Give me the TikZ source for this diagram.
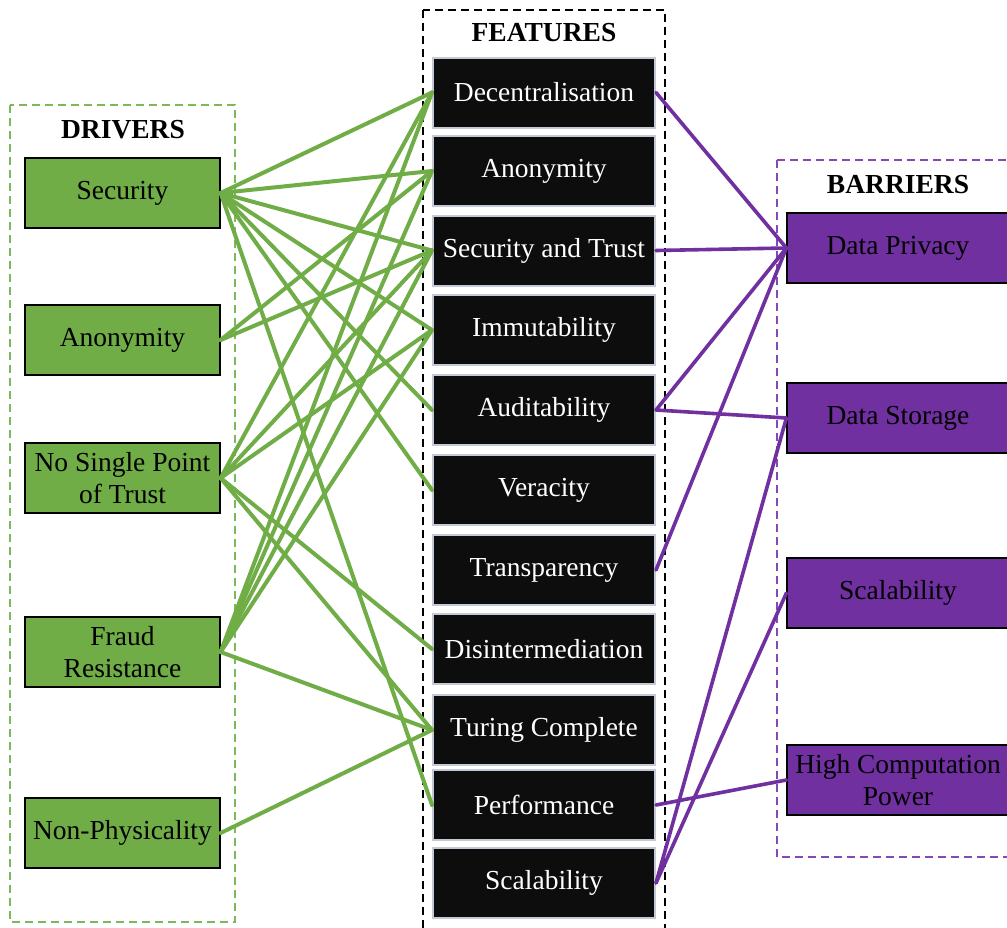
\documentclass[tikz,border=0pt]{standalone}
\usepackage{fontspec}
\setmainfont{Liberation Serif}
\definecolor{drvgreen}{HTML}{70AD47}
\definecolor{lgreen}{HTML}{70AD47}
\definecolor{grpgreen}{HTML}{7DB95A}
\definecolor{barpurple}{HTML}{7030A0}
\definecolor{lpurple}{HTML}{7030A0}
\definecolor{grppurple}{HTML}{8548B5}
\definecolor{featblack}{HTML}{0D0D0D}
\definecolor{featborder}{HTML}{C3CAD6}
\begin{document}
\begin{tikzpicture}[x=1pt,y=-1pt,
  txt/.style={font=\fontsize{27.5}{32}\selectfont, align=center, inner sep=0pt},
  ttl/.style={font=\fontsize{27.5}{32}\selectfont\bfseries, inner sep=0pt},
  drv/.style={txt, draw=black, line width=1.2pt, fill=drvgreen, minimum width=195pt, minimum height=70pt},
  feat/.style={txt, draw=featborder, line width=2pt, fill=featblack, text=white, minimum width=222pt, minimum height=70pt},
  bar/.style={txt, draw=black, line width=1.2pt, fill=barpurple, minimum width=222pt, minimum height=70pt},
  gl/.style={draw=lgreen, line width=4pt, line cap=round},
  pl/.style={draw=lpurple, line width=3.6pt, line cap=round},
  grp/.style={dash pattern=on 8pt off 5pt, line width=1.6pt}
]
\useasboundingbox[fill=white] (0,0) rectangle (1007,927);
\begin{scope}
\clip (0,0) rectangle (1007,927);
% groups
\draw[grp, draw=grpgreen] (10,105) rectangle (235,922);
\draw[grp, draw=black] (423,10) rectangle (665,935);
\draw[grp, draw=grppurple] (777,160) rectangle (1020,857);
\node[ttl] (tdrv) at (123,130) {DRIVERS};
\node[ttl] (tfeat) at (544,33) {FEATURES};
\node[ttl] (tbar) at (898,185) {BARRIERS};
% drivers
\node[drv] (dsec) at (122.5,193) {Security};
\node[drv] (dano) at (122.5,340) {Anonymity};
\node[drv] (dnsp) at (122.5,478) {No Single Point\\of Trust};
\node[drv] (dfr)  at (122.5,652) {Fraud\\Resistance};
\node[drv] (dnp)  at (122.5,833) {Non-Physicality};
% features
\node[feat] (fdec) at (544,92.5) {Decentralisation};
\node[feat] (fano) at (544,171) {Anonymity};
\node[feat] (fst)  at (544,250.5) {Security and Trust};
\node[feat] (fimm) at (544,330) {Immutability};
\node[feat] (faud) at (544,410) {Auditability};
\node[feat] (fver) at (544,490) {Veracity};
\node[feat] (ftra) at (544,570) {Transparency};
\node[feat] (fdis) at (544,649) {Disintermediation};
\node[feat] (ftur) at (544,730) {Turing Complete};
\node[feat] (fper) at (544,805) {Performance};
\node[feat] (fsca) at (544,883) {Scalability};
% barriers
\node[bar] (bdp)  at (898,248) {Data Privacy};
\node[bar] (bds)  at (898,418) {Data Storage};
\node[bar] (bsc)  at (898,593) {Scalability};
\node[bar] (bhc)  at (898,780) {High Computation\\Power};
% green connectors
\foreach \t in {fdec,fano,fst,fimm,faud,fver,fper} \draw[gl] (dsec.east) -- (\t.west);
\foreach \t in {fano,fst} \draw[gl] (dano.east) -- (\t.west);
\foreach \t in {fdec,fst,fimm,fdis,ftur} \draw[gl] (dnsp.east) -- (\t.west);
\foreach \t in {fdec,fano,fst,fimm,ftur} \draw[gl] (dfr.east) -- (\t.west);
\draw[gl] (dnp.east) -- (ftur.west);
% purple connectors
\draw[pl] (fdec.east) -- (bdp.west);
\draw[pl] (fst.east) -- (bdp.west);
\draw[pl] (faud.east) -- (bdp.west);
\draw[pl] (faud.east) -- (bds.west);
\draw[pl] (ftra.east) -- (bdp.west);
\draw[pl] (fsca.east) -- (bds.west);
\draw[pl] (fsca.east) -- (bsc.west);
\draw[pl] (fper.east) -- (bhc.west);
\end{scope}
\end{tikzpicture}
\end{document}
